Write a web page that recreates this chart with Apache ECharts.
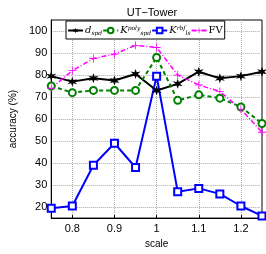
<!DOCTYPE html>
<html><head><meta charset="utf-8">
<script src="https://cdn.jsdelivr.net/npm/echarts@6/dist/echarts.min.js"></script>
<style>html,body{margin:0;padding:0;background:#fff}#c{width:266px;height:254px}</style>
</head><body><div id="c"></div>
<script>
var scales = ['0.75','0.8','0.85','0.9','0.95','1','1.05','1.1','1.15','1.2','1.25'];
var dSpd  = [79.5, 77, 78.5, 77.5, 80.5, 73, 76, 81.5, 78.5, 79.5, 81.5];
var kPoly = [75, 72, 73, 73, 73, 88, 68.5, 71, 69.5, 65.5, 58];
var kRbf  = [19.5, 20.5, 39, 49, 38, 79.5, 27, 28.5, 26, 20.5, 16];
var fv    = [74, 82, 87.5, 89.5, 93.5, 92.5, 80, 75.5, 72.5, 64.5, 54];
var yTicks = [20, 30, 40, 50, 60, 70, 80, 90, 100];

var star = 'path://M0,-10 L2,-3.46 L8.66,-5 L4,0 L8.66,5 L2,3.46 L0,10 L-2,3.46 L-8.66,5 L-4,0 L-8.66,-5 L-2,-3.46 Z';
var plus = 'path://M-1,-10 H1 V-1 H10 V1 H1 V10 H-1 V1 H-10 V-1 H-1 Z';
var odd = function (i) { return i % 2 === 1; };

var chart = echarts.init(document.getElementById('c'));
var rich = {
  m: {fontFamily: 'DejaVu Serif', fontStyle: 'italic', fontSize: 10, color: '#000'},
  n: {fontFamily: 'DejaVu Serif', fontSize: 10, color: '#000'},
  sub: {fontFamily: 'DejaVu Serif', fontStyle: 'italic', fontSize: 6, color: '#000', verticalAlign: 'bottom', padding: [5, 0, 0, 0]},
  sup: {fontFamily: 'DejaVu Serif', fontStyle: 'italic', fontSize: 6, color: '#000', verticalAlign: 'top', padding: [0, 0, 5, 0]}
};
chart.setOption({
  animation: false,
  title: {text: 'UT\u2212Tower', left: 147, top: 2, textAlign: 'center',
    textStyle: {fontFamily: 'Liberation Sans', fontSize: 11, fontWeight: 'normal', color: '#000'}},
  grid: {left: 34, right: 4, top: 20, bottom: 25, show: true, borderColor: '#000', borderWidth: 1},
  legend: {
    left: 66, top: 21, padding: [4, 2, 3, 1], itemGap: 0,
    itemWidth: 15, itemHeight: 7, backgroundColor: '#fff', borderColor: '#000', borderWidth: 1,
    borderRadius: 0,
    formatter: function (name) {
      if (name === 'd') return '{m|d}{sub|spd}';
      if (name === 'kp') return '{m|K}{sup|poly}{sub|spd}';
      if (name === 'kr') return '{m|K}{sup|rbf}{sub|ls}';
      return '{n|FV}';
    },
    textStyle: {rich: rich, padding: [0, 0, 0, -3]}
  },
  xAxis: {
    type: 'category', data: scales, boundaryGap: false,
    name: 'scale', nameLocation: 'middle', nameGap: 15,
    nameTextStyle: {fontFamily: 'Liberation Sans', fontSize: 10, color: '#000'},
    axisLine: {lineStyle: {color: '#000'}},
    axisTick: {inside: true, length: 3, interval: odd, lineStyle: {color: '#000'}},
    axisLabel: {interval: odd, fontFamily: 'Liberation Sans', fontSize: 11, color: '#000', margin: 5},
    splitLine: {show: true, interval: odd, lineStyle: {type: 'dotted', color: '#aaa'}}
  },
  yAxis: {
    type: 'value', min: 15, max: 105, interval: 5,
    name: 'accuracy (%)', nameLocation: 'middle', nameGap: 22,
    nameTextStyle: {fontFamily: 'Liberation Sans', fontSize: 10, color: '#000'},
    axisLine: {show: true, lineStyle: {color: '#000'}},
    axisTick: {show: false},
    axisLabel: {fontFamily: 'Liberation Sans', fontSize: 11, color: '#000', margin: 4,
      formatter: function (v) { return yTicks.indexOf(v) >= 0 ? String(v) : ''; }},
    splitLine: {show: true, lineStyle: {type: 'dotted', color: ['rgba(0,0,0,0)', '#aaa']}}
  },
  series: [
    {name: 'd', type: 'line', data: dSpd, symbol: star, symbolSize: 10,
      itemStyle: {color: '#000'}, lineStyle: {color: '#000', width: 2}},
    {name: 'kp', type: 'line', data: kPoly, symbol: 'emptyCircle', symbolSize: 7,
      itemStyle: {color: '#008000', borderWidth: 2}, lineStyle: {color: '#008000', width: 2, type: [4, 3]}},
    {name: 'kr', type: 'line', data: kRbf, symbol: 'emptyRect', symbolSize: 7,
      itemStyle: {color: '#0000ff', borderWidth: 1.5}, lineStyle: {color: '#0000ff', width: 2}},
    {name: 'fv', type: 'line', data: fv, symbol: plus, symbolSize: 8,
      itemStyle: {color: '#ff00ff'}, lineStyle: {color: '#ff00ff', width: 1.5, type: [5, 2, 1, 2]}}
  ]
});
</script></body></html>
